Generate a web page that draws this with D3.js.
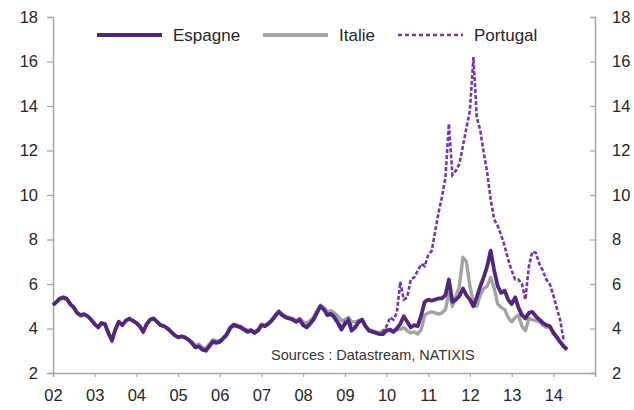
<!DOCTYPE html>
<html>
<head>
<meta charset="utf-8">
<script src="https://cdn.jsdelivr.net/npm/d3@7"></script>
<style>
  body { margin: 0; background: #fff; }
  svg { display: block; font-family: "Liberation Sans", Arial, sans-serif; }
</style>
</head>
<body>
<div id="chart"></div>
<script>
// monthly 10y yields, Jan 2002 onwards
var espagne = [
  5.05, 5.2, 5.35, 5.4, 5.35, 5.1, 4.95, 4.7, 4.6, 4.65, 4.55, 4.4,
  4.2, 4.05, 4.25, 4.2, 3.8, 3.45, 3.95, 4.3, 4.15, 4.35, 4.45, 4.35,
  4.25, 4.1, 3.85, 4.2, 4.4, 4.45, 4.3, 4.15, 4.1, 4.0, 3.85, 3.7,
  3.6, 3.65, 3.6, 3.5, 3.35, 3.15, 3.2, 3.05, 3.0, 3.2, 3.4, 3.35,
  3.4, 3.55, 3.7, 4.0, 4.15, 4.1, 4.05, 3.95, 3.85, 3.9, 3.8, 3.9,
  4.15, 4.1, 4.2, 4.35, 4.55, 4.75, 4.6, 4.5, 4.45, 4.4, 4.3, 4.4,
  4.15, 4.05, 4.2, 4.4, 4.7, 5.0, 4.85, 4.6, 4.65, 4.5, 4.25, 3.95,
  4.2, 4.35, 3.9, 4.05, 4.3, 4.4, 4.1, 3.9, 3.85, 3.8, 3.75, 3.75,
  3.9, 3.95, 3.85, 4.0, 4.2, 4.55, 4.3, 4.05, 4.15, 4.1, 4.6, 5.2,
  5.3, 5.25, 5.3, 5.35, 5.35, 5.5, 6.2, 5.2, 5.3, 5.45, 5.8, 5.5,
  5.3, 5.0, 5.4, 5.9, 6.3, 6.8, 7.5, 6.6, 5.9, 5.6, 5.7, 5.3,
  5.1, 5.4, 4.95, 4.6, 4.45, 4.7, 4.75, 4.55, 4.4, 4.25, 4.15, 4.1,
  3.8, 3.6, 3.4, 3.2, 3.05
];
var italie = [
  5.05, 5.2, 5.3, 5.35, 5.3, 5.1, 4.95, 4.7, 4.55, 4.6, 4.55, 4.4,
  4.2, 4.05, 4.2, 4.2, 3.8, 3.5, 3.95, 4.3, 4.15, 4.35, 4.4, 4.35,
  4.25, 4.1, 3.85, 4.2, 4.4, 4.45, 4.3, 4.15, 4.1, 4.0, 3.85, 3.7,
  3.6, 3.65, 3.6, 3.5, 3.4, 3.25, 3.3, 3.15, 3.1, 3.3, 3.5, 3.45,
  3.45, 3.6, 3.75, 4.05, 4.2, 4.15, 4.1, 4.0, 3.9, 3.95, 3.85, 3.95,
  4.2, 4.15, 4.25, 4.4, 4.6, 4.8, 4.65, 4.55, 4.5, 4.45, 4.35, 4.45,
  4.3, 4.25, 4.35, 4.5, 4.8, 5.05, 4.95, 4.75, 4.8, 4.7, 4.55, 4.35,
  4.4, 4.5, 4.3, 4.3, 4.35, 4.4, 4.1, 3.95, 3.9, 3.85, 3.8, 3.9,
  3.95, 3.9, 3.85, 3.95, 3.95, 4.05, 3.9, 3.8, 3.85, 3.75, 3.95, 4.6,
  4.7, 4.75, 4.7, 4.65, 4.7, 4.85, 5.6, 5.0, 5.45, 5.9, 7.2, 7.0,
  5.9, 5.2, 5.0, 5.5, 5.8, 5.9, 6.3, 5.8, 5.1, 4.95, 4.85, 4.5,
  4.3, 4.5, 4.6, 4.1, 3.9, 4.45, 4.4, 4.35, 4.3, 4.15, 4.05, 4.1,
  3.85, 3.65, 3.4, 3.2, 3.1
];
var portugal = [
  5.1, 5.2, 5.35, 5.4, 5.35, 5.15, 4.95, 4.7, 4.6, 4.65, 4.55, 4.4,
  4.2, 4.05, 4.25, 4.2, 3.8, 3.5, 3.95, 4.3, 4.15, 4.35, 4.45, 4.35,
  4.25, 4.1, 3.85, 4.2, 4.4, 4.45, 4.3, 4.15, 4.1, 4.0, 3.85, 3.7,
  3.6, 3.65, 3.6, 3.5, 3.35, 3.15, 3.2, 3.1, 3.05, 3.25, 3.45, 3.4,
  3.45, 3.6, 3.75, 4.05, 4.2, 4.15, 4.1, 4.0, 3.9, 3.95, 3.85, 3.95,
  4.15, 4.1, 4.2, 4.35, 4.55, 4.75, 4.6, 4.5, 4.45, 4.4, 4.3, 4.4,
  4.2, 4.1, 4.25, 4.45, 4.75, 5.0, 4.9, 4.65, 4.7, 4.55, 4.3, 4.1,
  4.3, 4.45, 4.1, 4.1, 4.25, 4.35, 4.1, 3.9, 3.85, 3.8, 3.8, 3.85,
  4.1, 4.5, 4.4, 4.7, 6.1, 5.3, 5.4, 6.2, 6.3, 6.6, 6.9, 6.8,
  7.3, 7.5, 8.3, 9.2, 9.9, 10.8, 13.2, 10.9, 11.1, 11.4, 12.2, 13.0,
  13.8, 16.2, 13.5, 12.9, 11.9, 11.0, 9.8, 8.9, 8.6, 8.2, 7.7, 7.1,
  6.6, 6.2, 6.2, 6.0, 5.3, 6.8, 7.45, 7.4, 6.9, 6.6, 6.2, 6.0,
  5.5, 4.9, 4.4, 3.5
];
var yTicks = [2, 4, 6, 8, 10, 12, 14, 16, 18];
var xTickYears = [2002, 2003, 2004, 2005, 2006, 2007, 2008, 2009, 2010, 2011, 2012, 2013, 2014];
var seriesNames = ["Espagne", "Italie", "Portugal"];

(function () {
  var width = 634, height = 410;
  var mLeft = 53, mRight = 595, mTop = 17, mBottom = 373;

  var svg = d3.select("#chart").append("svg")
    .attr("width", width)
    .attr("height", height);

  var x = d3.scaleTime()
    .domain([new Date(2002, 0, 1), new Date(2015, 0, 1)])
    .range([mLeft, mRight]);

  var y = d3.scaleLinear()
    .domain([2, 18])
    .range([mBottom, mTop]);

  var months = d3.timeMonth.range(new Date(2002, 0, 1), new Date(2014, 5, 1));

  var toPoints = vals => vals.map((v, i) => [months[i], v]);

  var line = d3.line()
    .x(d => x(d[0]))
    .y(d => y(d[1]));

  // axes
  var axisColor = "#a6a6a6";
  var labelColor = "#262626";

  var yLeft = svg.append("g")
    .attr("transform", "translate(" + mLeft + ",0)")
    .call(d3.axisLeft(y).tickValues(yTicks).tickSize(6).tickPadding(9));
  var yRight = svg.append("g")
    .attr("transform", "translate(" + mRight + ",0)")
    .call(d3.axisRight(y).tickValues(yTicks).tickSize(-5).tickPadding(17));
  var xAxis = svg.append("g")
    .attr("transform", "translate(0," + mBottom + ")")
    .call(d3.axisBottom(x)
      .tickValues(xTickYears.map(yr => new Date(yr, 0, 1)))
      .tickFormat(d3.timeFormat("%y"))
      .tickSize(4).tickPadding(12));

  [yLeft, yRight, xAxis].forEach(g => {
    g.select(".domain").attr("stroke", axisColor).attr("stroke-width", 1.5);
    g.selectAll(".tick line").attr("stroke", axisColor).attr("stroke-width", 1.2);
    g.selectAll(".tick text")
      .attr("fill", labelColor)
      .style("font-size", "16.5px")
      .style("font-family", "'Liberation Sans', Arial, sans-serif");
  });

  // lines
  svg.append("path")
    .datum(toPoints(italie))
    .attr("fill", "none")
    .attr("stroke", "#a3a3a3")
    .attr("stroke-width", 3.4)
    .attr("stroke-linejoin", "round")
    .attr("d", line);

  svg.append("path")
    .datum(toPoints(portugal))
    .attr("fill", "none")
    .attr("stroke", "#7434ae")
    .attr("stroke-width", 2.6)
    .attr("stroke-dasharray", "4,2")
    .attr("d", line);

  svg.append("path")
    .datum(toPoints(espagne))
    .attr("fill", "none")
    .attr("stroke", "#52267c")
    .attr("stroke-width", 3.8)
    .attr("stroke-linejoin", "round")
    .attr("d", line);

  // legend
  var legend = [
    { name: seriesNames[0], x1: 97, color: "#52267c", w: 4, dash: null },
    { name: seriesNames[1], x1: 263, color: "#a3a3a3", w: 4, dash: null },
    { name: seriesNames[2], x1: 398, color: "#7434ae", w: 2.5, dash: "4,3" }
  ];
  legend.forEach(l => {
    svg.append("line")
      .attr("x1", l.x1).attr("x2", l.x1 + 65)
      .attr("y1", 35).attr("y2", 35)
      .attr("stroke", l.color)
      .attr("stroke-width", l.w)
      .attr("stroke-dasharray", l.dash);
    svg.append("text")
      .attr("x", l.x1 + 76)
      .attr("y", 41)
      .attr("fill", labelColor)
      .style("font-size", "17px")
      .text(l.name);
  });

  svg.append("text")
    .attr("x", 271)
    .attr("y", 360)
    .attr("fill", "#333")
    .style("font-size", "14.5px")
    .text("Sources : Datastream, NATIXIS");
})();
</script>
</body>
</html>
